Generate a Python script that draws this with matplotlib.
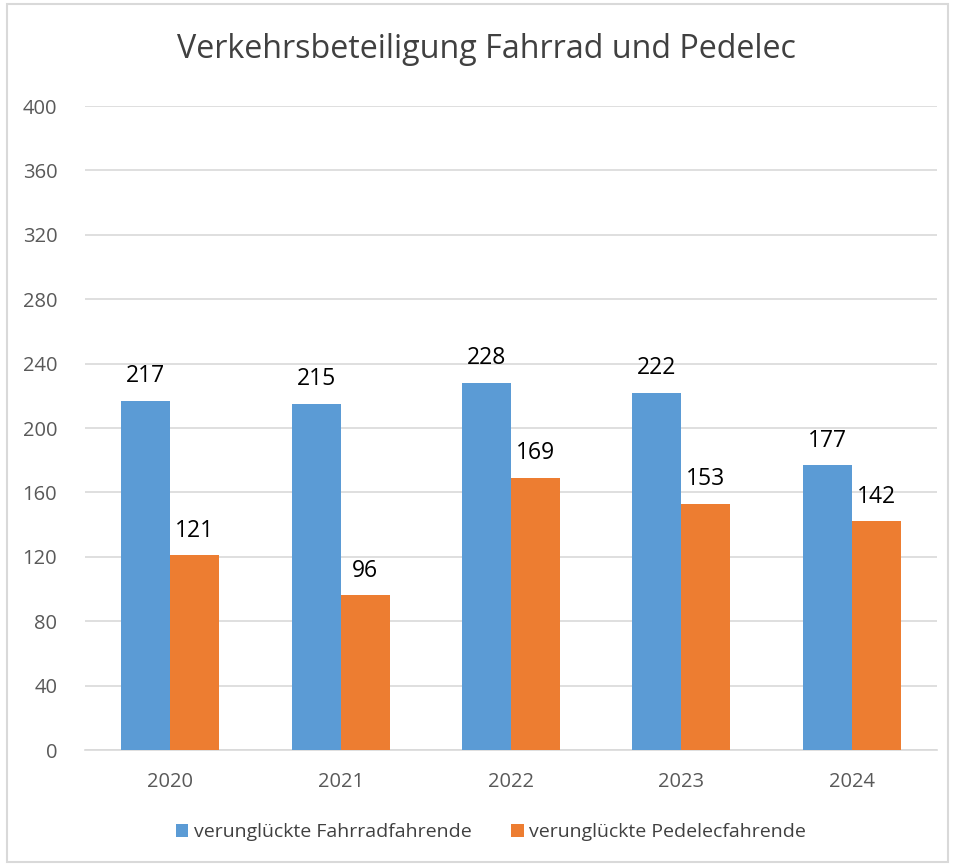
import matplotlib
matplotlib.use("Agg")
import matplotlib.pyplot as plt
from matplotlib.patches import Rectangle
import numpy as np

years = ["2020", "2021", "2022", "2023", "2024"]
fahrrad = [217, 215, 228, 222, 177]
pedelec = [121, 96, 169, 153, 142]
series_names = ["verunglückte Fahrradfahrende", "verunglückte Pedelecfahrende"]
yticks = [0, 40, 80, 120, 160, 200, 240, 280, 320, 360, 400]

plt.rcParams['font.family'] = ['Open Sans', 'DejaVu Sans']

fig = plt.figure(figsize=(9.55, 8.66), dpi=100)
ax = fig.add_axes([85/955, 1-750/866, (937-85)/955, (750-106)/866])

x = np.arange(len(years))
w = 0.288
b1 = ax.bar(x - w/2, fahrrad, w, color="#5B9BD5", label=series_names[0], zorder=3)
b2 = ax.bar(x + w/2, pedelec, w, color="#ED7D31", label=series_names[1], zorder=3)

for bars in (b1, b2):
    for r in bars:
        ax.annotate(f"{int(r.get_height())}", (r.get_x()+r.get_width()/2, r.get_height()),
                    xytext=(0, 9), textcoords="offset points", ha="center", va="bottom",
                    fontsize=16.5, color="black")

ax.set_xlim(-0.5, len(years)-0.5)
ax.set_ylim(0, 400)
ax.set_yticks(yticks)
ax.set_xticks(x)
ax.set_xticklabels(years)
ax.tick_params(axis='both', length=0, labelsize=14.5, colors="#595959")
ax.tick_params(axis='y', pad=20)
ax.tick_params(axis='x', pad=16)
ax.grid(axis='y', color="#D9D9D9", linewidth=1.2, zorder=0)
for s in ["top", "right", "left"]:
    ax.spines[s].set_visible(False)
ax.spines["bottom"].set_color("#D9D9D9")
ax.spines["bottom"].set_linewidth(1.2)

fig.text(486/955, 1-50/866, "Verkehrsbeteiligung Fahrrad und Pedelec", ha="center", va="center",
         fontsize=23.2, color="#404040")

leg = fig.legend(handles=[b1, b2], loc="center", bbox_to_anchor=(491/955, 1-832/866), ncol=2,
                 frameon=False, fontsize=14, handlelength=0.65, handleheight=0.65,
                 columnspacing=2.0, handletextpad=0.3)
for t in leg.get_texts():
    t.set_color("#404040")

fig.patches.append(Rectangle((7/955, 4/866), (948-7)/955, (862-4)/866, transform=fig.transFigure,
                             fill=False, edgecolor="#D9D9D9", linewidth=1.5))

fig.savefig("out.png", dpi=100)
